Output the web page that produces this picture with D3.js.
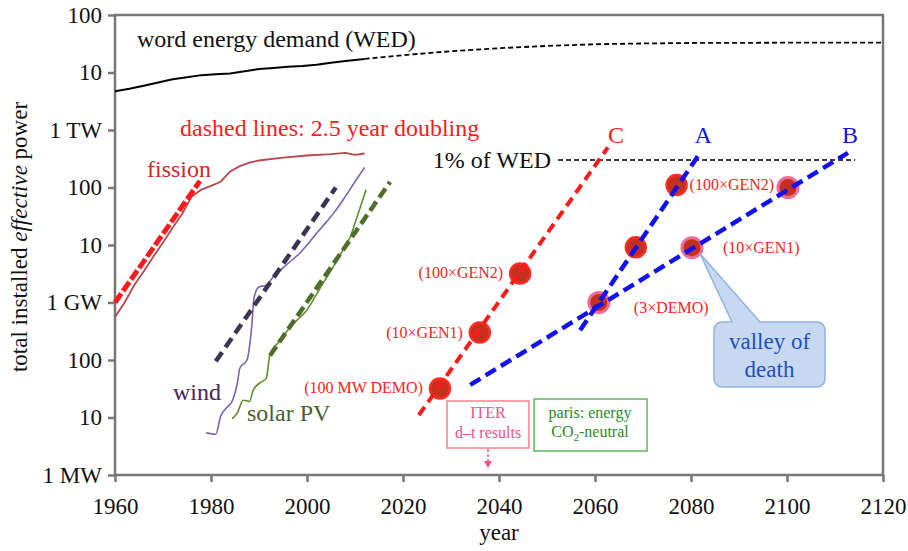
<!DOCTYPE html>
<html>
<head>
<meta charset="utf-8">
<script src="https://cdn.jsdelivr.net/npm/d3@7"></script>
<style>
  body { margin: 0; background: #fff; }
  svg { display: block; font-family: "Liberation Serif", "Times New Roman", serif; }
</style>
</head>
<body>
<svg id="svg" width="908" height="551"></svg>
<script>
// values in MW, years on x
var wedYears = [1960, 1963, 1966, 1969, 1972, 1975, 1978, 1981, 1984, 1987, 1990, 1993, 1996, 1999, 2002, 2005, 2008, 2010, 2012];
var wedMW = [4.7e6, 5.2e6, 5.9e6, 6.7e6, 7.6e6, 8.3e6, 9.0e6, 9.3e6, 9.6e6, 10.5e6, 11.5e6, 12.0e6, 12.6e6, 13.0e6, 13.6e6, 14.8e6, 15.8e6, 16.5e6, 17.2e6];
var wedFutYears = [2012, 2020, 2030, 2040, 2050, 2060, 2070, 2080, 2100, 2120];
var wedFutMW = [17.2e6, 20e6, 23.5e6, 26.5e6, 29e6, 31e6, 32e6, 32.6e6, 33e6, 33e6];

var fissionYears = [1960, 1962, 1964, 1966, 1968, 1970, 1972, 1974, 1976, 1978, 1980, 1982, 1984, 1986, 1988, 1990, 1995, 2000, 2005, 2008, 2010, 2012];
var fissionMW = [560, 1000, 2000, 3500, 6300, 11000, 20000, 35000, 70000, 92000, 107000, 126000, 190000, 235000, 270000, 295000, 330000, 360000, 380000, 400000, 370000, 390000];

var windYears = [1979, 1980, 1981, 1982, 1983, 1984.5, 1985.5, 1986, 1987.5, 1988.5, 1989, 1990, 1991.5, 1993, 1995, 1997, 1998.5, 2000, 2002, 2004, 2006, 2008, 2010, 2012];
var windMW = [5.4, 5.2, 5.1, 10.5, 14, 20, 40, 72, 100, 400, 1260, 1860, 2000, 2800, 4000, 5600, 7200, 10000, 16000, 25000, 40000, 70000, 126000, 224000];

var solarYears = [1984.4, 1985.5, 1986.7, 1988, 1988.8, 1990.2, 1991.5, 1992.3, 1994, 1996.5, 1998, 2000, 2002, 2003.4, 2005.5, 2007, 2009, 2010.5, 2012.3];
var solarMW = [9.5, 12, 20, 19, 30, 40, 48, 126, 200, 370, 500, 740, 1400, 2200, 4200, 7000, 13800, 32000, 91000];

// 2.5 year doubling trend lines [start, end]
var fissionTrend = [[1960, 1000], [1977.7, 130000]];
var windTrend = [[1981, 95], [2006, 100000]];
var solarTrend = [[1992.3, 120], [2017.3, 125000]];
var lineC = [[2023.3, 11], [2062.7, 500000]];
var lineA = [[2056.9, 330], [2081.9, 400000]];
var lineB = [[2034, 37], [2112.7, 400000]];
var wedOnePct = [[2052.3, 300000], [2114.2, 300000]];

var fusionPoints = [
  {year: 2027.7, mw: 32, label: "(100 MW DEMO)", side: "left", pink: false},
  {year: 2036, mw: 300, label: "(10×GEN1)", side: "left", pink: false},
  {year: 2044.4, mw: 3200, label: "(100×GEN2)", side: "left", pink: false},
  {year: 2068.5, mw: 9100, label: "", side: "", pink: false},
  {year: 2077, mw: 110000, label: "(100×GEN2)", side: "right", pink: false},
  {year: 2060.8, mw: 1000, label: "(3×DEMO)", side: "below", pink: true},
  {year: 2080.2, mw: 9000, label: "(10×GEN1)", side: "farright", pink: true},
  {year: 2100.2, mw: 100000, label: "", side: "", pink: true}
];

var yTicks = [1, 10, 100, 1e3, 1e4, 1e5, 1e6, 1e7, 1e8];
var yTickLabels = ["1 MW", "10", "100", "1 GW", "10", "100", "1 TW", "10", "100"];
var xTicks = [1960, 1980, 2000, 2020, 2040, 2060, 2080, 2100, 2120];

var svg = d3.select("#svg");
var L = 115, R = 883, T = 15, B = 475;
var x = d3.scaleLinear().domain([1960, 2120]).range([L, R]);
var y = d3.scaleLog().domain([1, 1e8]).range([B, T]);

var line = d3.line().x((d) => x(d[0])).y((d) => y(d[1]));
var zip = (a, b) => a.map((v, i) => [v, b[i]]);

// axes
var yAx = svg.append("g").attr("transform", "translate(" + L + ",0)")
    .call(d3.axisLeft(y).tickValues(yTicks).tickSize(7).tickPadding(6)
        .tickFormat((d, i) => yTickLabels[i]));
var xAx = svg.append("g").attr("transform", "translate(0," + B + ")")
    .call(d3.axisBottom(x).tickValues(xTicks).tickSize(7).tickPadding(16)
        .tickFormat(d3.format("d")));
[yAx, xAx].forEach((g) => {
    g.attr("font-family", null);
    g.select(".domain").remove();
    g.selectAll(".tick line").attr("stroke", "#777").attr("stroke-width", 2.5);
    g.selectAll(".tick text").attr("fill", "#111").style("font-size", "23px");
});

svg.append("rect").attr("x", L).attr("y", T).attr("width", R - L).attr("height", B - T)
    .attr("fill", "none").attr("stroke", "#777").attr("stroke-width", 2.5);

// axis titles
svg.append("text").attr("x", x(2040)).attr("y", 540).attr("text-anchor", "middle")
    .style("font-size", "23px").attr("fill", "#111").text("year");
var yl = svg.append("text").attr("transform", "translate(27,237) rotate(-90)")
    .attr("text-anchor", "middle").style("font-size", "23px").attr("fill", "#111");
yl.append("tspan").text("total installed ");
yl.append("tspan").style("font-style", "italic").text("effective");
yl.append("tspan").text(" power");

// WED
svg.append("path").datum(zip(wedYears, wedMW)).attr("d", line)
    .attr("fill", "none").attr("stroke", "#000").attr("stroke-width", 2);
svg.append("path").datum(zip(wedFutYears, wedFutMW)).attr("d", line)
    .attr("fill", "none").attr("stroke", "#000").attr("stroke-width", 1.8).attr("stroke-dasharray", "5,3");
svg.append("path").datum(wedOnePct).attr("d", line)
    .attr("fill", "none").attr("stroke", "#000").attr("stroke-width", 1.5).attr("stroke-dasharray", "5,3");

// historical
svg.append("path").datum(zip(fissionYears, fissionMW)).attr("d", line)
    .attr("fill", "none").attr("stroke", "#b8474b").attr("stroke-width", 1.8);
svg.append("path").datum(zip(windYears, windMW)).attr("d", line.curve(d3.curveMonotoneX))
    .attr("fill", "none").attr("stroke", "#7b62b0").attr("stroke-width", 1.6);
svg.append("path").datum(zip(solarYears, solarMW)).attr("d", line)
    .attr("fill", "none").attr("stroke", "#5f8d2e").attr("stroke-width", 1.6);
line.curve(d3.curveLinear);

svg.append("path").datum(fissionTrend).attr("d", line)
    .attr("fill", "none").attr("stroke", "#ff1a1a").attr("stroke-width", 5).attr("stroke-dasharray", "11,3");
svg.append("path").datum(windTrend).attr("d", line)
    .attr("fill", "none").attr("stroke", "#3a3552").attr("stroke-width", 4.5).attr("stroke-dasharray", "11,6");
svg.append("path").datum(solarTrend).attr("d", line)
    .attr("fill", "none").attr("stroke", "#4f6e2b").attr("stroke-width", 4.5).attr("stroke-dasharray", "11,5");

// fusion points
svg.selectAll("circle.pt").data(fusionPoints).enter().append("circle")
    .attr("class", "pt")
    .attr("cx", (d) => x(d.year)).attr("cy", (d) => y(d.mw)).attr("r", 10)
    .attr("fill", "#c4301c")
    .attr("stroke", (d) => d.pink ? "#f0699b" : "#ff2a22")
    .attr("stroke-width", (d) => d.pink ? 3 : 2.5);

svg.append("path").datum(lineC).attr("d", line)
    .attr("fill", "none").attr("stroke", "#ff1a1a").attr("stroke-width", 4).attr("stroke-dasharray", "10,6");
svg.append("path").datum(lineA).attr("d", line)
    .attr("fill", "none").attr("stroke", "#1212ee").attr("stroke-width", 4.5).attr("stroke-dasharray", "12,6");
svg.append("path").datum(lineB).attr("d", line)
    .attr("fill", "none").attr("stroke", "#1212ee").attr("stroke-width", 4.5).attr("stroke-dasharray", "12,6");

svg.selectAll("text.pl").data(fusionPoints.filter((d) => d.label)).enter().append("text")
    .attr("class", "pl")
    .attr("x", (d) => {
        var cx = x(d.year);
        if (d.side == "left") return cx - 17;
        if (d.side == "right") return cx + 13;
        if (d.side == "below") return cx + 35;
        return cx + 31;
    })
    .attr("y", (d) => y(d.mw) + (d.side == "below" ? 10 : 5))
    .attr("text-anchor", (d) => d.side == "left" ? "end" : "start")
    .style("font-size", "16px").attr("fill", "#ff2020").text((d) => d.label);

// text labels
function label(txt, px, py, size, color, anchor) {
    svg.append("text").attr("x", px).attr("y", py).attr("text-anchor", anchor || "start")
        .style("font-size", size + "px").attr("fill", color).text(txt);
}
label("word energy demand (WED)", 137, 47, 24, "#111");
label("dashed lines: 2.5 year doubling", 180, 136, 24, "#ff1a1a");
label("fission", 147, 177, 24, "#cc2a2a");
label("wind", 173, 400, 24, "#4a2458");
label("solar PV", 247, 421, 24, "#4b5e2e");
label("1% of WED", 551, 168, 24, "#111", "end");
label("C", x(lineC[1][0]) + 8, 143, 24, "#ff1a1a", "middle");
label("A", x(lineA[1][0]) + 3, 143, 24, "#1212ee", "middle");
label("B", x(lineB[1][0]) + 2, 143, 24, "#1212ee", "middle");

// ITER box
var ix = 447, iy = 401;
svg.append("rect").attr("x", ix).attr("y", iy).attr("width", 82).attr("height", 47)
    .attr("fill", "#fff").attr("stroke", "#ff7d8c").attr("stroke-width", 1.5);
label("ITER", ix + 41, iy + 17, 16, "#f0508a", "middle");
label("d–t results", ix + 41, iy + 37, 16, "#f0508a", "middle");
svg.append("line").attr("x1", ix + 41).attr("x2", ix + 41).attr("y1", iy + 48).attr("y2", iy + 60)
    .attr("stroke", "#f0508a").attr("stroke-width", 1.5).attr("stroke-dasharray", "3,2");
svg.append("path").attr("d", "M" + (ix + 37) + "," + (iy + 60) + "L" + (ix + 45) + "," + (iy + 60) + "L" + (ix + 41) + "," + (iy + 67) + "Z")
    .attr("fill", "#f0508a");

// paris box
var px0 = 534, py0 = 399;
svg.append("rect").attr("x", px0).attr("y", py0).attr("width", 113).attr("height", 52)
    .attr("fill", "#fff").attr("stroke", "#5cb85c").attr("stroke-width", 1.5);
label("paris: energy", px0 + 56, py0 + 19, 16, "#2a8a2a", "middle");
var co = svg.append("text").attr("x", px0 + 56).attr("y", py0 + 38).attr("text-anchor", "middle")
    .style("font-size", "16px").attr("fill", "#2a8a2a");
co.append("tspan").text("CO");
co.append("tspan").attr("dy", 4).style("font-size", "11px").text("2");
co.append("tspan").attr("dy", -4).text("-neutral");

// valley of death callout
var tipX = x(2080.2) + 8, tipY = y(9000) + 6;
var bx = 714, by = 322, bw = 111, bh = 65, r = 9;
var p = d3.path();
p.moveTo(bx + r, by);
p.lineTo(bx + 18, by);
p.lineTo(tipX, tipY);
p.lineTo(bx + 46, by);
p.lineTo(bx + bw - r, by);
p.quadraticCurveTo(bx + bw, by, bx + bw, by + r);
p.lineTo(bx + bw, by + bh - r);
p.quadraticCurveTo(bx + bw, by + bh, bx + bw - r, by + bh);
p.lineTo(bx + r, by + bh);
p.quadraticCurveTo(bx, by + bh, bx, by + bh - r);
p.lineTo(bx, by + r);
p.quadraticCurveTo(bx, by, bx + r, by);
p.closePath();
svg.append("path").attr("d", p.toString()).attr("fill", "#c6d9f1").attr("stroke", "#8fb3e0").attr("stroke-width", 1.5);
label("valley of", bx + bw / 2, by + 27, 23, "#1d4fc0", "middle");
label("death", bx + bw / 2, by + 55, 23, "#1d4fc0", "middle");
</script>
</body>
</html>
